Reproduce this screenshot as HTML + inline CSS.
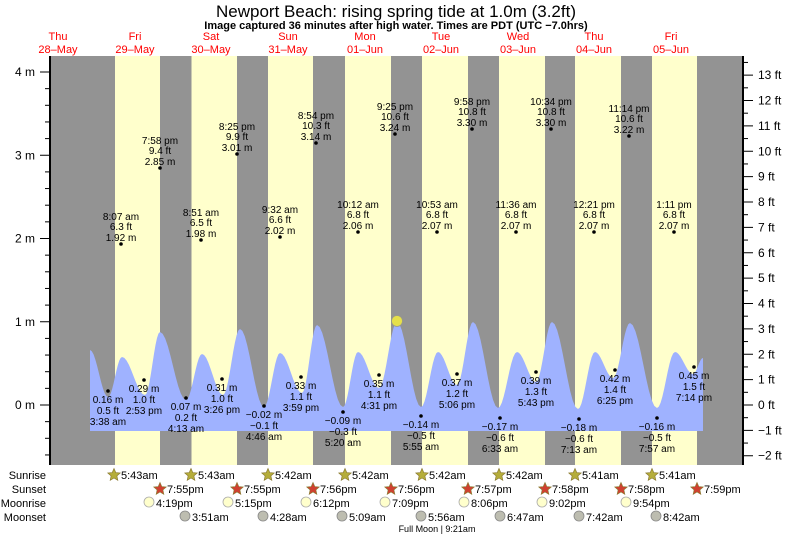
<!DOCTYPE html>
<html><head><meta charset="utf-8"><style>
html,body{margin:0;padding:0;background:#fff}
svg{display:block;font-family:"Liberation Sans",sans-serif}
</style></head><body>
<svg id="s" width="793" height="537" viewBox="0 0 793 537" xmlns="http://www.w3.org/2000/svg">
<text x="396" y="17" font-size="17" text-anchor="middle">Newport Beach: rising  spring tide at 1.0m (3.2ft)</text>
<text x="396" y="29" font-size="11" font-weight="bold" text-anchor="middle">Image captured 36 minutes after high water. Times are PDT (UTC −7.0hrs)</text>
<g id="g"></g>
</svg>
<script>
var g=document.getElementById('g'),h='';
function T(x,y,t,a,c,fs){h+='<text x="'+x+'" y="'+y+'" font-size="'+(fs||10)+'" text-anchor="'+(a||'middle')+'" fill="'+(c||'#000')+'">'+t+'</text>';}
// background
h+='<rect x="50" y="56" width="693" height="409" fill="#939393"/>';
var ys=[115,191.5,268,345,422,499,575,652],ye=[160,237,313,391,468,545,621,697];
for(var i=0;i<8;i++)h+='<rect x="'+ys[i]+'" y="56" width="'+(ye[i]-ys[i])+'" height="409" fill="#ffffcc"/>';
// days
var dx=[58,135,211,288,365,441,518,594,671],d1=['Thu','Fri','Sat','Sun','Mon','Tue','Wed','Thu','Fri'],d2=['28–May','29–May','30–May','31–May','01–Jun','02–Jun','03–Jun','04–Jun','05–Jun'];
for(i=0;i<9;i++){T(dx[i],40,d1[i],'middle','#f00',11);T(dx[i],53,d2[i],'middle','#f00',11);}
// tide curve
var P=[[90,350],[108,397],[122,357],[145,395],[160,332],[186,400],[202,354],[223,395],[240,329],[264,407],[280,353],[302,393],[317,325],[343,407],[358,352],[379,388],[397,322],[421,407],[438,352],[457,385],[473,322],[498,408],[517,352],[536,382],[552,322],[578,409],[595,352],[613,378],[630,323],[657,408],[675,352],[693,374],[703,358]];
var d='M90,431 L90,350';
for(i=0;i<P.length-1;i++){var a=P[i],b=P[i+1];for(var k=1;k<=10;k++){var t=k/10,x=a[0]+(b[0]-a[0])*t,y=a[1]+(b[1]-a[1])*(1-Math.cos(Math.PI*t))/2;if(i==P.length-2&&k>0){ }d+=' L'+x.toFixed(1)+','+y.toFixed(1);}}
d+=' L703,431 Z';
h+='<path d="'+d+'" fill="#9fb2ff"/>';
// axes
h+='<line x1="50" y1="56" x2="50" y2="465" stroke="#000" stroke-width="2"/>';
h+='<line x1="743" y1="56" x2="743" y2="465" stroke="#000" stroke-width="2"/>';
var z=405,pm=83.25;
for(var m=-0.6;m<=4.4;m+=0.2){var y=z-m*pm;if(y<57||y>464)continue;var maj=Math.abs(m-Math.round(m))<0.01;h+='<line x1="'+(maj?40:45)+'" y1="'+y+'" x2="50" y2="'+y+'" stroke="#000"/>';if(maj)T(35,y+4,Math.round(m)+' m','end','#000',12);}
for(var f=-3;f<=14;f+=0.5){var y=z-f*0.3048*pm;if(y<57||y>464)continue;var maj=f==Math.round(f);h+='<line x1="743" y1="'+y+'" x2="'+(maj?753:748)+'" y2="'+y+'" stroke="#000"/>';if(maj)T(758,y+4,(f<0?'−'+(-f):f)+' ft','start','#000',12);}
// highs
var H=[[121,244,'8:07 am','6.3 ft','1.92 m'],[160,168,'7:58 pm','9.4 ft','2.85 m'],[201,240,'8:51 am','6.5 ft','1.98 m'],[237,154,'8:25 pm','9.9 ft','3.01 m'],[280,237,'9:32 am','6.6 ft','2.02 m'],[316,143,'8:54 pm','10.3 ft','3.14 m'],[358,232,'10:12 am','6.8 ft','2.06 m'],[395,134,'9:25 pm','10.6 ft','3.24 m'],[437,232,'10:53 am','6.8 ft','2.07 m'],[472,129,'9:58 pm','10.8 ft','3.30 m'],[516,232,'11:36 am','6.8 ft','2.07 m'],[551,129,'10:34 pm','10.8 ft','3.30 m'],[594,232,'12:21 pm','6.8 ft','2.07 m'],[629,136,'11:14 pm','10.6 ft','3.22 m'],[674,232,'1:11 pm','6.8 ft','2.07 m']];
H.forEach(function(p){h+='<circle cx="'+p[0]+'" cy="'+p[1]+'" r="1.8"/>';T(p[0],p[1]-24,p[2]);T(p[0],p[1]-14,p[3]);T(p[0],p[1]-3,p[4]);});
var L=[[108,391,'0.16 m','0.5 ft','3:38 am'],[144,380,'0.29 m','1.0 ft','2:53 pm'],[186,398,'0.07 m','0.2 ft','4:13 am'],[222,379,'0.31 m','1.0 ft','3:26 pm'],[264,406,'−0.02 m','−0.1 ft','4:46 am'],[301,377,'0.33 m','1.1 ft','3:59 pm'],[343,412,'−0.09 m','−0.3 ft','5:20 am'],[379,375,'0.35 m','1.1 ft','4:31 pm'],[421,416,'−0.14 m','−0.5 ft','5:55 am'],[457,374,'0.37 m','1.2 ft','5:06 pm'],[500,418,'−0.17 m','−0.6 ft','6:33 am'],[536,372,'0.39 m','1.3 ft','5:43 pm'],[579,419,'−0.18 m','−0.6 ft','7:13 am'],[615,370,'0.42 m','1.4 ft','6:25 pm'],[657,418,'−0.16 m','−0.5 ft','7:57 am'],[694,367,'0.45 m','1.5 ft','7:14 pm']];
L.forEach(function(p){h+='<circle cx="'+p[0]+'" cy="'+p[1]+'" r="1.8"/>';T(p[0],p[1]+12,p[2]);T(p[0],p[1]+23,p[3]);T(p[0],p[1]+34,p[4]);});
h+='<circle cx="397" cy="321" r="5.5" fill="#e6e04a" stroke="#998" stroke-width="0.8"/>';
// bottom rows
T(46,479,'Sunrise','end','#000',11);T(46,493,'Sunset','end','#000',11);T(46,507,'Moonrise','end','#000',11);T(46,521,'Moonset','end','#000',11);
function star(cx,cy,fill){var s='';for(var j=0;j<10;j++){var r=j%2?3:6.5,an=-Math.PI/2+j*Math.PI/5;s+=(cx+r*Math.cos(an)).toFixed(1)+','+(cy+r*Math.sin(an)).toFixed(1)+' ';}h+='<polygon points="'+s+'" fill="'+fill+'" stroke="#8a7a30" stroke-width="0.7"/>';}
var sr=['5:43am','5:43am','5:42am','5:42am','5:42am','5:42am','5:41am','5:41am'],ss=['7:55pm','7:55pm','7:56pm','7:56pm','7:57pm','7:58pm','7:58pm','7:59pm'];
var srx=[114,191,268,345,422,499,575,652],ssx=[160,237,313,391,468,545,621,697];
for(i=0;i<8;i++){star(srx[i],475,'#b5ad3a');T(srx[i]+7,479,sr[i],'start','#000',11);star(ssx[i],489,'#d04030');T(ssx[i]+7,493,ss[i],'start','#000',11);}
var mr=[[149,'4:19pm'],[228,'5:15pm'],[306,'6:12pm'],[385,'7:09pm'],[464,'8:06pm'],[542,'9:02pm'],[626,'9:54pm']],ms=[[185,'3:51am'],[263,'4:28am'],[342,'5:09am'],[421,'5:56am'],[500,'6:47am'],[579,'7:42am'],[656,'8:42am']];
mr.forEach(function(p){h+='<circle cx="'+p[0]+'" cy="502" r="5" fill="#ffffcc" stroke="#aaa" stroke-width="0.8"/>';T(p[0]+7,507,p[1],'start','#000',11);});
ms.forEach(function(p){h+='<circle cx="'+p[0]+'" cy="516" r="5" fill="#bdbdb0" stroke="#888" stroke-width="0.8"/>';T(p[0]+7,521,p[1],'start','#000',11);});
T(437,532,'Full Moon | 9:21am','middle','#000',9);
g.innerHTML=h;
</script>
</body></html>
